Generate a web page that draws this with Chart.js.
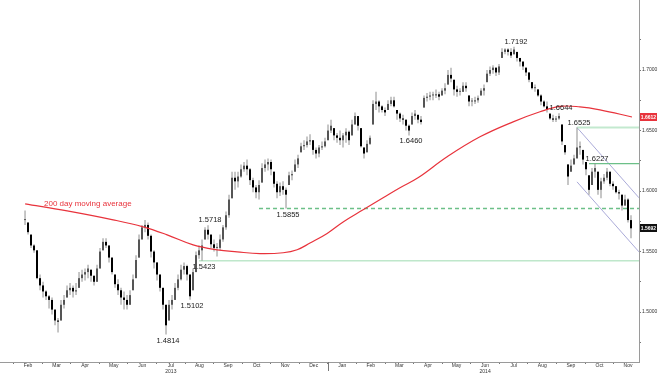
<!DOCTYPE html>
<html>
<head>
<meta charset="utf-8">
<script src="https://cdn.jsdelivr.net/npm/chart.js@4.4.1/dist/chart.umd.min.js"></script>
<style>
  html, body { margin: 0; padding: 0; background: #fff; }
  #wrap { width: 672px; height: 376px; }
</style>
</head>
<body>
<div id="wrap"><canvas id="cableChart" width="672" height="376"></canvas></div>
<script>
// GBP/USD, Feb 2013 - Nov 2014. One bar for about every two trading days.
// x unit = months counted from 1 Feb 2013
const firstBar = 0.396;
const barStep = 0.105;

const highs = [1.584, 1.574, 1.564, 1.556, 1.551, 1.531, 1.525, 1.518, 1.514, 1.512,
  1.502, 1.495, 1.510, 1.514, 1.522, 1.524, 1.522, 1.524, 1.533, 1.535,
  1.536, 1.539, 1.535, 1.530, 1.539, 1.553, 1.561, 1.561, 1.555, 1.545,
  1.531, 1.527, 1.520, 1.517, 1.514, 1.518, 1.531, 1.547, 1.564, 1.572,
  1.576, 1.574, 1.564, 1.551, 1.541, 1.531, 1.520, 1.506, 1.510, 1.514,
  1.524, 1.531, 1.539, 1.541, 1.539, 1.531, 1.536, 1.550, 1.555, 1.560,
  1.570, 1.5718, 1.564, 1.560, 1.557, 1.564, 1.572, 1.583, 1.597, 1.616,
  1.616, 1.616, 1.622, 1.624, 1.626, 1.619, 1.611, 1.605, 1.609, 1.623,
  1.626, 1.627, 1.626, 1.616, 1.608, 1.607, 1.608, 1.603, 1.616, 1.617,
  1.626, 1.630, 1.640, 1.642, 1.645, 1.647, 1.642, 1.636, 1.638, 1.641,
  1.644, 1.655, 1.659, 1.652, 1.648, 1.650, 1.648, 1.652, 1.650, 1.659,
  1.665, 1.662, 1.652, 1.636, 1.642, 1.646, 1.675, 1.682, 1.675, 1.671,
  1.669, 1.675, 1.678, 1.678, 1.667, 1.665, 1.663, 1.659, 1.655, 1.665,
  1.667, 1.663, 1.662, 1.679, 1.681, 1.682, 1.682, 1.684, 1.682, 1.685,
  1.689, 1.700, 1.702, 1.692, 1.687, 1.685, 1.690, 1.690, 1.679, 1.677,
  1.678, 1.679, 1.685, 1.688, 1.700, 1.703, 1.704, 1.702, 1.705, 1.718,
  1.718, 1.718, 1.718, 1.7192, 1.715, 1.710, 1.707, 1.702, 1.698, 1.690,
  1.688, 1.684, 1.680, 1.675, 1.674, 1.664, 1.663, 1.662, 1.6644, 1.655,
  1.638, 1.622, 1.626, 1.630, 1.6525, 1.641, 1.634, 1.624, 1.613, 1.619,
  1.6227, 1.616, 1.611, 1.614, 1.619, 1.616, 1.608, 1.604, 1.601, 1.597,
  1.597, 1.594, 1.580];

const lows = [1.572, 1.564, 1.553, 1.549, 1.527, 1.518, 1.512, 1.510, 1.503, 1.498,
  1.489, 1.483, 1.493, 1.503, 1.512, 1.514, 1.512, 1.514, 1.520, 1.525,
  1.526, 1.528, 1.525, 1.522, 1.525, 1.536, 1.551, 1.553, 1.541, 1.531,
  1.520, 1.514, 1.506, 1.502, 1.502, 1.506, 1.518, 1.528, 1.545, 1.560,
  1.566, 1.560, 1.545, 1.536, 1.526, 1.517, 1.502, 1.4814, 1.493, 1.502,
  1.510, 1.518, 1.526, 1.531, 1.526, 1.5102, 1.518, 1.533, 1.544, 1.5423,
  1.560, 1.560, 1.553, 1.550, 1.546, 1.551, 1.558, 1.568, 1.578, 1.594,
  1.601, 1.603, 1.611, 1.616, 1.613, 1.605, 1.599, 1.594, 1.593, 1.607,
  1.616, 1.617, 1.613, 1.603, 1.594, 1.596, 1.597, 1.5855, 1.605, 1.609,
  1.616, 1.619, 1.632, 1.634, 1.636, 1.638, 1.630, 1.627, 1.628, 1.634,
  1.636, 1.642, 1.648, 1.642, 1.640, 1.638, 1.636, 1.640, 1.638, 1.646,
  1.655, 1.650, 1.636, 1.627, 1.632, 1.638, 1.655, 1.667, 1.665, 1.665,
  1.662, 1.667, 1.670, 1.669, 1.659, 1.657, 1.655, 1.650, 1.6460, 1.655,
  1.659, 1.656, 1.655, 1.669, 1.674, 1.675, 1.675, 1.677, 1.675, 1.679,
  1.680, 1.688, 1.690, 1.679, 1.678, 1.679, 1.682, 1.682, 1.670, 1.670,
  1.672, 1.673, 1.679, 1.679, 1.690, 1.695, 1.697, 1.695, 1.696, 1.710,
  1.713, 1.712, 1.710, 1.713, 1.707, 1.703, 1.700, 1.695, 1.690, 1.684,
  1.682, 1.678, 1.671, 1.669, 1.665, 1.659, 1.657, 1.657, 1.659, 1.638,
  1.630, 1.605, 1.616, 1.622, 1.627, 1.630, 1.622, 1.613, 1.597, 1.605,
  1.611, 1.597, 1.594, 1.606, 1.609, 1.604, 1.601, 1.598, 1.593, 1.584,
  1.588, 1.574, 1.561];

const closes = [1.576, 1.566, 1.555, 1.551, 1.528, 1.522, 1.517, 1.513, 1.510, 1.502,
  1.493, 1.492, 1.506, 1.510, 1.518, 1.520, 1.517, 1.518, 1.528, 1.531,
  1.533, 1.536, 1.530, 1.525, 1.536, 1.550, 1.558, 1.555, 1.545, 1.533,
  1.523, 1.518, 1.512, 1.510, 1.506, 1.514, 1.527, 1.543, 1.560, 1.570,
  1.572, 1.563, 1.550, 1.541, 1.531, 1.520, 1.506, 1.489, 1.506, 1.510,
  1.520, 1.527, 1.535, 1.538, 1.531, 1.513, 1.533, 1.547, 1.551, 1.555,
  1.568, 1.564, 1.556, 1.553, 1.553, 1.560, 1.570, 1.580, 1.593, 1.611,
  1.608, 1.612, 1.618, 1.621, 1.618, 1.609, 1.603, 1.599, 1.605, 1.619,
  1.622, 1.624, 1.618, 1.606, 1.599, 1.604, 1.601, 1.597, 1.613, 1.614,
  1.622, 1.627, 1.637, 1.638, 1.641, 1.642, 1.634, 1.631, 1.636, 1.637,
  1.641, 1.650, 1.654, 1.646, 1.644, 1.642, 1.646, 1.649, 1.642, 1.655,
  1.662, 1.654, 1.637, 1.631, 1.639, 1.644, 1.672, 1.674, 1.670, 1.667,
  1.665, 1.672, 1.675, 1.670, 1.664, 1.660, 1.659, 1.654, 1.650, 1.662,
  1.664, 1.659, 1.657, 1.677, 1.678, 1.679, 1.679, 1.680, 1.678, 1.683,
  1.685, 1.696, 1.693, 1.684, 1.682, 1.682, 1.687, 1.685, 1.674, 1.674,
  1.675, 1.677, 1.683, 1.685, 1.697, 1.700, 1.702, 1.698, 1.703, 1.715,
  1.717, 1.715, 1.712, 1.717, 1.710, 1.707, 1.703, 1.698, 1.692, 1.685,
  1.685, 1.679, 1.674, 1.670, 1.667, 1.660, 1.659, 1.660, 1.662, 1.641,
  1.632, 1.612, 1.621, 1.627, 1.636, 1.637, 1.626, 1.618, 1.601, 1.616,
  1.619, 1.601, 1.608, 1.611, 1.616, 1.606, 1.604, 1.599, 1.598, 1.588,
  1.593, 1.576, 1.5692];

// 200 day moving average
const maMonths = [0.40, 1.87, 3.48, 4.53, 5.37, 6.28, 7.12, 7.82, 8.62, 9.43,
  9.92, 10.37, 10.97, 11.53, 12.23, 12.93, 13.52, 14.15, 15.17, 16.32,
  17.48, 18.42, 19.12, 19.82, 20.52, 21.64];
const maValues = [1.5894, 1.5836, 1.5762, 1.5704, 1.5638, 1.5555, 1.5514, 1.5497, 1.5483, 1.5490,
  1.5515, 1.5570, 1.5650, 1.5745, 1.5845, 1.5944, 1.6027, 1.6109, 1.6283, 1.6448,
  1.6572, 1.6655, 1.6700, 1.6696, 1.6671, 1.6612];

const monthLabels = ['Feb', 'Mar', 'Apr', 'May', 'Jun', 'Jul', 'Aug', 'Sep', 'Oct', 'Nov', 'Dec',
  'Jan', 'Feb', 'Mar', 'Apr', 'May', 'Jun', 'Jul', 'Aug', 'Sep', 'Oct', 'Nov'];
const yearUnder = { 5: '2013', 16: '2014' };
const yTicks = [1.475, 1.500, 1.525, 1.550, 1.575, 1.600, 1.625, 1.650, 1.675, 1.700, 1.725];

// marked turning points: price, bar, label above or below
const notePrices = [1.4814, 1.5102, 1.5423, 1.5718, 1.5855, 1.6460, 1.7192, 1.6644, 1.6525, 1.6227];
const noteBars = [47, 55, 59, 61, 87, 128, 163, 178, 184, 190];
const noteAbove = [false, false, false, true, false, false, true, true, true, true];

// support / resistance levels and the start bar of each line
const levelPrices = [1.5423, 1.5855, 1.6525, 1.6227];
const levelStartBars = [58, 78, 184, 188];

// falling channel from the September high to the right edge
const channelStartBar = 184;
const channelUpper = [1.6525, 1.5944];
const channelLower = [1.6076, 1.5497];

const xMin = -0.48;
const xMax = 21.886;

const barX = i => firstBar + i * barStep;
const opens = closes.map((c, i) => {
  const prev = i > 0 ? closes[i - 1] : c;
  return Math.min(Math.max(prev, lows[i]), highs[i]);
});

const levelStyles = [
  { color: '#9ddbb0', width: 1, dash: [] },
  { color: '#6cc088', width: 1.5, dash: [4, 3] },
  { color: '#c3e9cf', width: 1.8, dash: [] },
  { color: '#6cc088', width: 1.2, dash: [] }
];

const datasets = [];

datasets.push({
  type: 'line',
  data: maMonths.map((m, i) => ({ x: m, y: maValues[i] })),
  borderColor: '#e8333c',
  borderWidth: 1.2,
  pointRadius: 0,
  tension: 0.4,
  order: 0
});

datasets.push({
  type: 'bar',
  data: closes.map((c, i) => ({ x: barX(i), y: [opens[i], c] })),
  backgroundColor: closes.map((c, i) => c < opens[i] ? '#000000' : '#555555'),
  barThickness: 2,
  grouped: false,
  inflateAmount: 0,
  minBarLength: 1,
  order: 1
});

datasets.push({
  type: 'bar',
  data: highs.map((h, i) => ({ x: barX(i), y: [lows[i], h] })),
  backgroundColor: '#8e8e8e',
  barThickness: 1,
  grouped: false,
  inflateAmount: 0,
  order: 2
});

levelPrices.forEach((p, k) => {
  datasets.push({
    type: 'line',
    data: [{ x: barX(levelStartBars[k]), y: p }, { x: xMax, y: p }],
    borderColor: levelStyles[k].color,
    borderWidth: levelStyles[k].width,
    borderDash: levelStyles[k].dash,
    pointRadius: 0,
    order: 3
  });
});

[channelUpper, channelLower].forEach(ch => {
  datasets.push({
    type: 'line',
    data: [{ x: barX(channelStartBar), y: ch[0] }, { x: xMax, y: ch[1] }],
    borderColor: '#aaaad8',
    borderWidth: 1,
    pointRadius: 0,
    order: 3
  });
});

const isHalf = v => Math.abs(v - Math.floor(v) - 0.5) < 1e-6;

// text notes, moving average caption and the last value boxes on the axis
const notesPlugin = {
  id: 'notesPlugin',
  afterDatasetsDraw(chart) {
    const { ctx, scales: { x, y } } = chart;
    ctx.save();
    ctx.font = '7.5px "Liberation Sans", Arial, sans-serif';
    ctx.fillStyle = '#1a1a1a';
    ctx.textAlign = 'center';
    ctx.textBaseline = 'middle';
    notePrices.forEach((p, k) => {
      const px = x.getPixelForValue(barX(noteBars[k])) + 2;
      const py = y.getPixelForValue(p) + (noteAbove[k] ? -5 : 6);
      ctx.fillText(p.toFixed(4), px, py);
    });

    ctx.font = '8px "Liberation Sans", Arial, sans-serif';
    ctx.fillStyle = '#e8333c';
    ctx.textAlign = 'left';
    ctx.fillText('200 day moving average', x.getPixelForValue(1.06), y.getPixelForValue(maValues[0]));

    const boxes = [
      { v: maValues[maValues.length - 1], bg: '#e8333c' },
      { v: closes[closes.length - 1], bg: '#111111' }
    ];
    ctx.font = 'bold 5px "Liberation Sans", Arial, sans-serif';
    ctx.textAlign = 'center';
    boxes.forEach(b => {
      const py = Math.round(y.getPixelForValue(b.v));
      ctx.fillStyle = b.bg;
      ctx.fillRect(x.right + 1, py - 4, 17, 8);
      ctx.fillStyle = '#ffffff';
      ctx.fillText(b.v.toFixed(4), x.right + 9.5, py + 0.5);
    });

    // longer mark at the turn of the year
    const yearPx = Math.round(x.getPixelForValue(11)) + 0.5;
    ctx.strokeStyle = '#777777';
    ctx.lineWidth = 1;
    ctx.beginPath();
    ctx.moveTo(yearPx, y.bottom);
    ctx.lineTo(yearPx, y.bottom + 9);
    ctx.stroke();
    ctx.restore();
  }
};

const ctx = document.getElementById('cableChart').getContext('2d');
const cableChart = new Chart(ctx, {
  type: 'bar',
  data: { datasets: datasets },
  options: {
    responsive: false,
    animation: false,
    devicePixelRatio: 1,
    layout: { padding: 0 },
    plugins: {
      legend: { display: false },
      tooltip: { enabled: false }
    },
    scales: {
      x: {
        type: 'linear',
        min: xMin,
        max: xMax,
        offset: false,
        afterBuildTicks: scale => {
          const ticks = [];
          for (let k = 0; k < monthLabels.length; k++) {
            ticks.push({ value: k });
            ticks.push({ value: k + 0.5 });
          }
          scale.ticks = ticks;
        },
        afterFit: scale => {
          scale.height = 14;
          scale.paddingLeft = 0;
          scale.paddingRight = 0;
        },
        grid: {
          offset: false,
          drawOnChartArea: false,
          tickLength: 2,
          tickColor: c => (c.tick && !isHalf(c.tick.value)) ? '#777777' : 'rgba(0,0,0,0)'
        },
        border: { display: true, color: '#9a9a9a' },
        ticks: {
          autoSkip: false,
          maxRotation: 0,
          minRotation: 0,
          padding: -1,
          color: '#333333',
          font: { family: '"Liberation Sans", Arial, sans-serif', size: 5, lineHeight: 1.2 },
          callback: value => {
            if (!isHalf(value)) return '';
            const k = Math.floor(value);
            return yearUnder[k] ? [monthLabels[k], yearUnder[k]] : monthLabels[k];
          }
        }
      },
      y: {
        type: 'linear',
        position: 'right',
        min: 1.4587,
        max: 1.7579,
        afterBuildTicks: scale => {
          scale.ticks = yTicks.map(v => ({ value: v }));
        },
        afterFit: scale => {
          scale.width = 33;
          scale.paddingTop = 0;
          scale.paddingBottom = 0;
        },
        grid: {
          drawOnChartArea: false,
          tickLength: 2,
          tickColor: '#777777'
        },
        border: { display: true, color: '#9a9a9a' },
        ticks: {
          padding: 1,
          color: '#333333',
          font: { family: '"Liberation Sans", Arial, sans-serif', size: 5 },
          callback: value => Math.abs(value * 20 - Math.round(value * 20)) < 1e-6 ? value.toFixed(4) : ''
        }
      }
    }
  },
  plugins: [notesPlugin]
});
</script>
</body>
</html>
